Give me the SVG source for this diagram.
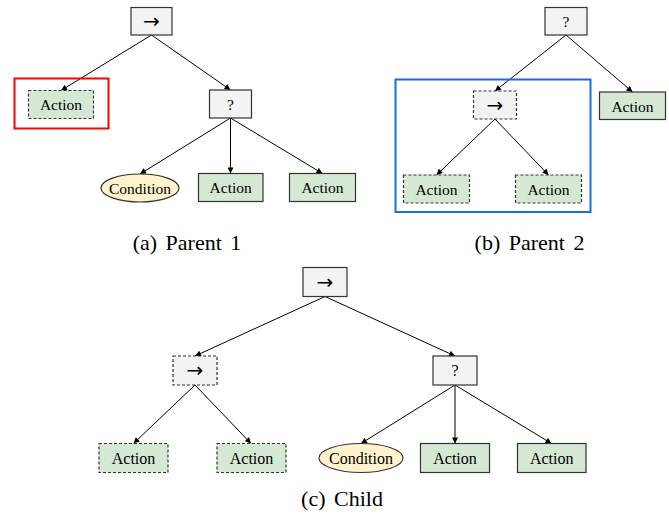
<svg xmlns="http://www.w3.org/2000/svg" width="669" height="516" viewBox="0 0 669 516">
<defs>
<marker id="ah" viewBox="0 0 10 10" refX="10" refY="5" markerWidth="7" markerHeight="6" markerUnits="userSpaceOnUse" orient="auto">
<path d="M0,0 L10,5 L0,10 z" fill="#000"/>
</marker>
</defs>
<style>
.ctl{fill:#f3f3f3;stroke:#333;stroke-width:1.2}
.act{fill:#d5e8d4;stroke:#333;stroke-width:1.2}
.dash{stroke-dasharray:3 2}
.cond{fill:#fff2cc;stroke:#333;stroke-width:1.2}
.t{font-family:"Liberation Serif","Times New Roman",serif;font-size:15.5px;fill:#000;text-anchor:middle;dominant-baseline:central}
.tc{font-size:16px}
.arr{font-family:"DejaVu Sans",sans-serif;font-size:20px;fill:#000;text-anchor:middle;dominant-baseline:central}
.cap{font-family:"Liberation Serif","Times New Roman",serif;font-size:22px;fill:#000;text-anchor:middle;word-spacing:3px}
.e{stroke:#000;stroke-width:1;fill:none;marker-end:url(#ah)}
</style>
<rect width="669" height="516" fill="#fff"/>

<g id="connectors">
<line class="e" x1="151.5" y1="35" x2="61" y2="90.5"/>
<line class="e" x1="151.5" y1="35" x2="230.5" y2="90"/>
<line class="e" x1="230.5" y1="118" x2="140" y2="174"/>
<line class="e" x1="230.5" y1="118" x2="230.5" y2="173.5"/>
<line class="e" x1="230.5" y1="118" x2="322.5" y2="173.5"/>

<line class="e" x1="566" y1="35" x2="495" y2="91"/>
<line class="e" x1="566" y1="35" x2="632.5" y2="92"/>
<line class="e" x1="495" y1="119" x2="436.5" y2="175"/>
<line class="e" x1="495" y1="119" x2="548.5" y2="175"/>

<line class="e" x1="325" y1="296.5" x2="195" y2="356"/>
<line class="e" x1="325" y1="296.5" x2="455" y2="356"/>
<line class="e" x1="195" y1="385" x2="133.5" y2="443.5"/>
<line class="e" x1="195" y1="385" x2="251" y2="443.5"/>
<line class="e" x1="455" y1="385" x2="361" y2="443.5"/>
<line class="e" x1="455" y1="385" x2="455" y2="443.5"/>
<line class="e" x1="455" y1="385" x2="551.5" y2="443.5"/>
</g>

<!-- Parent 1 -->
<g id="p1-highlight"><rect x="14.5" y="78.5" width="94" height="50" fill="none" stroke="#ff0000" stroke-width="2"/></g>
<g id="p1-root"><rect class="ctl" x="131" y="7.5" width="41" height="27.5"/><text class="arr" x="151.5" y="20.5">→</text></g>
<g id="p1-action1"><rect class="act dash" x="28.5" y="90.5" width="65" height="28"/><text class="t" x="61" y="104.5">Action</text></g>
<g id="p1-fallback"><rect class="ctl" x="209.5" y="90" width="42" height="28"/><text class="t" x="230.5" y="104">?</text></g>
<g id="p1-condition"><ellipse class="cond" cx="140" cy="188" rx="39" ry="14"/><text class="t" x="140" y="188">Condition</text></g>
<g id="p1-action2"><rect class="act" x="198.5" y="173.5" width="64.5" height="28"/><text class="t" x="230.7" y="187.5">Action</text></g>
<g id="p1-action3"><rect class="act" x="289.5" y="173.5" width="66" height="28"/><text class="t" x="322.5" y="187.5">Action</text></g>
<text class="cap" x="187" y="250">(a) Parent 1</text>

<!-- Parent 2 -->
<g id="p2-highlight"><rect x="395.5" y="79.5" width="195" height="132.5" fill="none" stroke="#1a6fd6" stroke-width="2"/></g>
<g id="p2-root"><rect class="ctl" x="545" y="7.5" width="42" height="27.5"/><text class="t" x="566" y="21">?</text></g>
<g id="p2-sequence"><rect class="ctl dash" x="473.5" y="91" width="43" height="28"/><text class="arr" x="495" y="104.5">→</text></g>
<g id="p2-action1"><rect class="act" x="599.5" y="92" width="66" height="27.5"/><text class="t" x="632.5" y="106">Action</text></g>
<g id="p2-action2"><rect class="act dash" x="403.5" y="175" width="66" height="28"/><text class="t" x="436.5" y="189">Action</text></g>
<g id="p2-action3"><rect class="act dash" x="515.5" y="175" width="66" height="28"/><text class="t" x="548.5" y="189">Action</text></g>
<text class="cap" x="529.5" y="250">(b) Parent 2</text>

<!-- Child -->
<g id="c-root"><rect class="ctl" x="303" y="267.5" width="44" height="29"/><text class="arr" x="325" y="281.5">→</text></g>
<g id="c-sequence"><rect class="ctl dash" x="173" y="356" width="44" height="29"/><text class="arr" x="195" y="370">→</text></g>
<g id="c-fallback"><rect class="ctl" x="433" y="356" width="44" height="29"/><text class="t tc" x="455" y="370.5">?</text></g>
<g id="c-action1"><rect class="act dash" x="99" y="443.5" width="69" height="29"/><text class="t tc" x="133.5" y="458">Action</text></g>
<g id="c-action2"><rect class="act dash" x="217" y="443.5" width="69" height="29"/><text class="t tc" x="251.5" y="458">Action</text></g>
<g id="c-condition"><ellipse class="cond" cx="361" cy="458" rx="42" ry="14.5"/><text class="t tc" x="361" y="458">Condition</text></g>
<g id="c-action3"><rect class="act" x="420.5" y="443.5" width="69" height="29"/><text class="t tc" x="455" y="458">Action</text></g>
<g id="c-action4"><rect class="act" x="517.5" y="443.5" width="68.5" height="29"/><text class="t tc" x="551.7" y="458">Action</text></g>
<text class="cap" x="342" y="506">(c) Child</text>
</svg>
